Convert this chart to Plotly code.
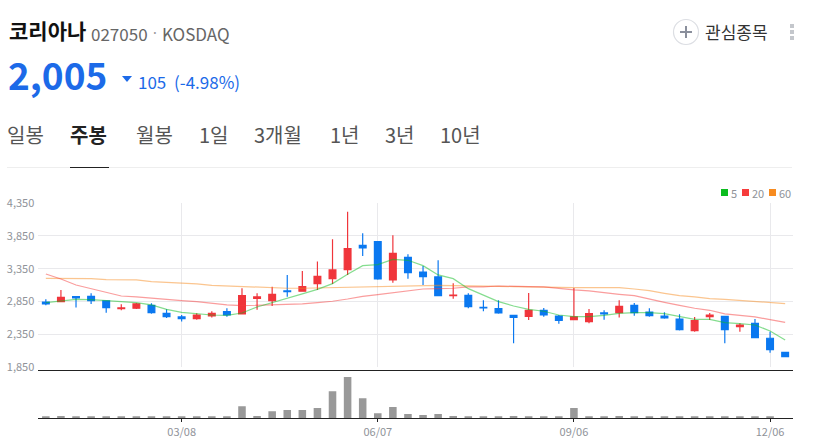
#!/usr/bin/python3
import plotly.graph_objs as go

W = 814
H = 445

open_price  = [2840, 2845, 2922, 2927, 2856, 2738, 2744, 2789, 2667, 2611,
               2585, 2626, 2692, 2657, 2896, 2861, 3009, 3004, 3121, 3197,
               3335, 3707, 3763, 3177, 3524, 3299, 3223, 2937, 2942, 2759,
               2738, 2636, 2621, 2713, 2626, 2570, 2540, 2672, 2677, 2789,
               2687, 2626, 2580, 2402, 2616, 2621, 2463, 2514, 2285, 2070]
high_price  = [2881, 3024, 2927, 2973, 2861, 2805, 2825, 2820, 2728, 2641,
               2667, 2698, 2743, 3050, 2973, 3075, 3254, 3315, 3458, 3799,
               4222, 3891, 3763, 3860, 3570, 3391, 3478, 3126, 2973, 2866,
               2866, 2636, 2978, 2749, 2641, 3055, 2733, 2713, 2866, 2825,
               2743, 2682, 2652, 2611, 2672, 2621, 2514, 2580, 2386, 2070]
low_price   = [2789, 2845, 2754, 2810, 2677, 2713, 2733, 2662, 2596, 2540,
               2570, 2601, 2616, 2647, 2723, 2779, 2922, 2999, 3024, 3116,
               3254, 3544, 3182, 3136, 3197, 3100, 2937, 2891, 2743, 2698,
               2662, 2208, 2565, 2616, 2509, 2570, 2514, 2570, 2601, 2631,
               2616, 2585, 2402, 2386, 2565, 2208, 2386, 2294, 2065, 2005]
close_price = [2810, 2912, 2902, 2861, 2754, 2749, 2810, 2677, 2616, 2585,
               2641, 2667, 2641, 2937, 2917, 2958, 2999, 3075, 3233, 3330,
               3656, 3667, 3192, 3585, 3289, 3228, 2937, 2947, 2769, 2749,
               2672, 2606, 2713, 2641, 2560, 2611, 2662, 2657, 2774, 2677,
               2631, 2596, 2417, 2555, 2641, 2417, 2488, 2294, 2111, 2005]
ma5  = [2830, 2861, 2881, 2876, 2861, 2846, 2830, 2795, 2728, 2682,
        2657, 2641, 2636, 2672, 2764, 2830, 2886, 2963, 3034, 3121,
        3264, 3396, 3412, 3493, 3478, 3396, 3254, 3197, 3044, 2942,
        2846, 2779, 2728, 2698, 2641, 2616, 2616, 2636, 2667, 2677,
        2677, 2662, 2616, 2575, 2575, 2524, 2509, 2488, 2397, 2259]
ma20 = [3269, 3192, 3100, 3044, 2983, 2932, 2917, 2896, 2881, 2861,
        2846, 2820, 2795, 2784, 2789, 2789, 2800, 2810, 2830, 2851,
        2886, 2927, 2953, 2983, 3009, 3039, 3044, 3050, 3070, 3070,
        3085, 3075, 3075, 3070, 3044, 3024, 3009, 2978, 2958, 2937,
        2881, 2835, 2789, 2744, 2713, 2657, 2636, 2611, 2570, 2529]
ma60 = [3202, 3202, 3202, 3197, 3182, 3177, 3177, 3151, 3141, 3126,
        3116, 3095, 3085, 3075, 3065, 3060, 3050, 3050, 3055, 3060,
        3070, 3075, 3080, 3085, 3090, 3095, 3095, 3090, 3090, 3085,
        3080, 3075, 3075, 3070, 3065, 3060, 3060, 3060, 3060, 3039,
        3014, 2973, 2937, 2917, 2891, 2881, 2866, 2851, 2835, 2815]
volume = [4, 7, 6, 4, 6, 4, 4, 4, 4, 4,
          4, 4, 4, 36, 7, 21, 25, 25, 31, 81,
          124, 60, 15, 34, 13, 10, 13, 7, 5, 5,
          5, 7, 5, 4, 4, 31, 4, 4, 7, 4,
          4, 4, 4, 4, 4, 4, 4, 6, 4, 0]
weeks = list(range(len(close_price)))
date_ticks  = [9, 22, 35, 48]
date_labels = ['03/08', '06/07', '09/06', '12/06']
price_ticks = [1850, 2350, 2850, 3350, 3850, 4350]
tabs = [('일봉', 7), ('주봉', 70), ('월봉', 136), ('1일', 199), ('3개월', 254), ('1년', 330), ('3년', 385), ('10년', 440)]
legend_items = [('5', 721, '#0cbc1f'), ('20', 742, '#f63c3c'), ('60', 769, '#f78b1f')]

FONT = 'Noto Sans CJK KR'
BLUE = '#1c6ae8'
RED  = '#f0353b'
CANDLE_BLUE = '#0a78f0'
GREY_TEXT = '#8f9399'


def px(x):
    return x / W


def py(y):
    return 1 - y / H


def label(text, x, y, size, color, anchor='left', bold=False):
    if bold:
        text = '<b>' + text + '</b>'
    return dict(text=text, x=px(x), y=py(y), xref='paper', yref='paper', xanchor=anchor, yanchor='middle',
                showarrow=False, borderpad=0, borderwidth=0, font=dict(family=FONT, size=size, color=color))


def rect(x0, y0, x1, y1, color):
    return dict(type='rect', xref='paper', yref='paper', x0=px(x0), x1=px(x1), y0=py(y0), y1=py(y1),
                fillcolor=color, line=dict(width=0), layer='above')


data = []
data.append(go.Scatter(x=weeks, y=ma60, mode='lines', line=dict(color='rgba(247,139,31,0.5)', width=1.2), showlegend=False))
data.append(go.Scatter(x=weeks, y=ma20, mode='lines', line=dict(color='rgba(246,60,60,0.5)', width=1.2), showlegend=False))
data.append(go.Scatter(x=weeks, y=ma5, mode='lines', line=dict(color='rgba(12,188,31,0.5)', width=1.2), showlegend=False))
data.append(go.Candlestick(x=weeks, open=open_price, high=high_price, low=low_price, close=close_price,
                           increasing=dict(line=dict(color=RED, width=1.2), fillcolor=RED),
                           decreasing=dict(line=dict(color=CANDLE_BLUE, width=1.2), fillcolor=CANDLE_BLUE),
                           whiskerwidth=0, showlegend=False))
data.append(go.Bar(x=weeks, y=volume, xaxis='x2', yaxis='y2', width=0.5, marker=dict(color='#999999', line=dict(width=0)), showlegend=False))

annotations = [
    label('코리아나', 9, 30, 21, '#111111', bold=True),
    label('027050', 91, 33, 17, '#666666'),
    label('·', 151, 32, 14, '#999999'),
    label('KOSDAQ', 162, 33, 17, '#666666'),
    label('2,005', 8, 74, 37, BLUE, bold=True),
    label('105', 138, 82, 17, BLUE),
    label('(-4.98%)', 174, 82, 17, BLUE),
    label('관심종목', 705, 31, 17, '#333333'),
]
for name, x in tabs:
    if name == '주봉':
        annotations.append(label(name, x, 134, 20, '#222222', bold=True))
    else:
        annotations.append(label(name, x, 134, 20, '#555555'))
for name, x, color in legend_items:
    annotations.append(label(name, x + 10, 192.5, 11, GREY_TEXT))

shapes = [
    dict(type='line', xref='paper', yref='paper', x0=px(7), x1=px(792), y0=py(167.5), y1=py(167.5), line=dict(color='#eeeeee', width=1)),
    dict(type='line', xref='paper', yref='paper', x0=px(70), x1=px(109), y0=py(167.5), y1=py(167.5), line=dict(color='#222222', width=1)),
    dict(type='circle', xref='paper', yref='paper', x0=px(673.5), x1=px(698.5), y0=py(19.5), y1=py(44.5), line=dict(color='#dcdee3', width=1.2)),
    dict(type='line', xref='paper', yref='paper', x0=px(680), x1=px(692), y0=py(32), y1=py(32), line=dict(color='#8a8f9c', width=2)),
    dict(type='line', xref='paper', yref='paper', x0=px(686), x1=px(686), y0=py(26), y1=py(38), line=dict(color='#8a8f9c', width=2)),
    dict(type='path', xref='paper', yref='paper', fillcolor=BLUE, line=dict(width=0),
         path='M %f %f L %f %f L %f %f Z' % (px(122), py(76), px(132), py(76), px(127), py(82))),
]
for y in [26, 32, 38]:
    shapes.append(rect(790, y - 2, 794, y + 2, '#c4c7cc'))
for name, x, color in legend_items:
    shapes.append(rect(x, 189, x + 7, 196, color))

layout = go.Layout(
    width=W, height=H,
    margin=dict(l=0, r=0, t=0, b=0, autoexpand=False),
    paper_bgcolor='#ffffff', plot_bgcolor='#ffffff',
    font=dict(family=FONT, size=11, color=GREY_TEXT),
    boxgap=0.55, boxgroupgap=0,
    xaxis=dict(domain=[px(38.3), px(792.7)], range=[-0.5, 49.5], rangeslider=dict(visible=False), tickvals=date_ticks, automargin=False,
               showticklabels=False, showgrid=True, gridcolor='#e9e9ec', gridwidth=1, zeroline=False, ticks=''),
    yaxis=dict(domain=[py(366.7), py(203.3)], range=[1850, 4350], tickvals=price_ticks, tickformat=',d', ticks='', automargin=False,
               ticklabelstandoff=3, showgrid=True, gridcolor='#e9e9ec', gridwidth=1, zeroline=False, tickfont=dict(size=11, color=GREY_TEXT)),
    xaxis2=dict(domain=[px(38.3), px(792.7)], range=[-0.5, 49.5], anchor='y2', tickvals=date_ticks, ticktext=date_labels, automargin=False,
                showline=True, mirror=True, linecolor='#222222', linewidth=1.2, ticks='outside', ticklen=3, tickcolor='#222222',
                showgrid=False, zeroline=False, tickfont=dict(size=11, color=GREY_TEXT)),
    yaxis2=dict(domain=[py(418.3), py(371.3)], range=[0, 141], showticklabels=False, showgrid=False, zeroline=False, ticks='', automargin=False),
    annotations=annotations, shapes=shapes, showlegend=False,
)

fig = go.Figure(data=data, layout=layout)
# page has a default body margin, drop it so the figure fills the window
fig.write_html('out.html', config=dict(displayModeBar=False), post_script="document.body.style.margin='0';")
